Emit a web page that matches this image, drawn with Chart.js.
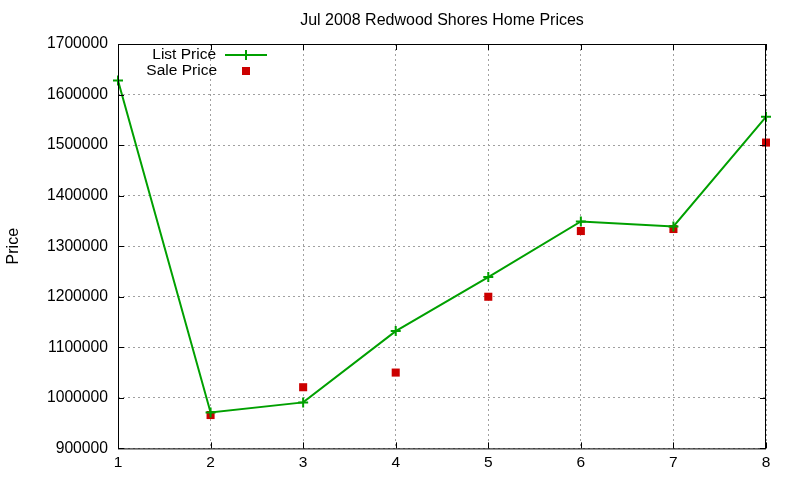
<!DOCTYPE html>
<html>
<head>
<meta charset="utf-8">
<script src="https://cdn.jsdelivr.net/npm/chart.js@4.4.1/dist/chart.umd.min.js"></script>
<style>
  html, body { margin: 0; padding: 0; background: #fff; }
</style>
</head>
<body>
<canvas id="chart" width="800" height="480"></canvas>
<script>
// Data
const months = [1, 2, 3, 4, 5, 6, 7, 8];
const listPrice = [1628000, 971000, 991000, 1132000, 1239000, 1349000, 1339000, 1556000];
const salePrice = [null, 966000, 1021000, 1050000, 1200000, 1330000, 1334000, 1505000];
const yTicks = [900000, 1000000, 1100000, 1200000, 1300000, 1400000, 1500000, 1600000, 1700000];

const FONT = 'Liberation Sans, Arial, sans-serif';
const GREEN = '#00a000';
const RED = '#cc0000';

// border box, mirrored inward ticks and the gnuplot-style key
const framePlugin = {
  id: 'frame',
  afterDatasetsDraw(chart) {
    const { ctx, chartArea: a, scales } = chart;
    ctx.save();
    ctx.strokeStyle = '#000';
    ctx.lineWidth = 1;
    ctx.strokeRect(a.left + 0.5, a.top + 0.5, a.right - a.left - 1, a.bottom - a.top);
    ctx.beginPath();
    const t = 6;
    scales.x.ticks.forEach(tk => {
      const px = Math.round(scales.x.getPixelForValue(tk.value)) + 0.5;
      ctx.moveTo(px, a.bottom); ctx.lineTo(px, a.bottom - t);
      ctx.moveTo(px, a.top); ctx.lineTo(px, a.top + t);
    });
    scales.y.ticks.forEach(tk => {
      const py = Math.round(scales.y.getPixelForValue(tk.value)) + 0.5;
      ctx.moveTo(a.left, py); ctx.lineTo(a.left + t, py);
      ctx.moveTo(a.right, py); ctx.lineTo(a.right - t, py);
    });
    ctx.stroke();

    // key
    ctx.font = '15.5px ' + FONT;
    ctx.fillStyle = '#000';
    ctx.textAlign = 'right';
    ctx.textBaseline = 'middle';
    ctx.fillText('List Price', 216, 55);
    ctx.fillText('Sale Price', 217, 71);
    ctx.strokeStyle = GREEN;
    ctx.lineWidth = 2;
    ctx.beginPath();
    ctx.moveTo(225, 55); ctx.lineTo(267, 55);
    ctx.moveTo(246, 50); ctx.lineTo(246, 60);
    ctx.stroke();
    ctx.fillStyle = RED;
    ctx.fillRect(242, 67, 8, 8);
    ctx.restore();
  }
};

new Chart(document.getElementById('chart'), {
  type: 'line',
  data: {
    datasets: [
      {
        label: 'List Price',
        data: months.map((m, i) => ({ x: m, y: listPrice[i] })),
        borderColor: GREEN,
        backgroundColor: GREEN,
        borderWidth: 2,
        pointStyle: 'cross',
        pointRadius: 5,
        pointBorderWidth: 2,
        tension: 0,
        clip: false
      },
      {
        label: 'Sale Price',
        data: months.map((m, i) => ({ x: m, y: salePrice[i] })),
        showLine: false,
        borderColor: RED,
        backgroundColor: RED,
        pointStyle: 'rect',
        pointRadius: 5.7,
        pointBorderWidth: 0,
        clip: false
      }
    ]
  },
  options: {
    responsive: false,
    animation: false,
    layout: { padding: { left: 4, right: 34, top: 0, bottom: 3 } },
    plugins: {
      legend: { display: false },
      tooltip: { enabled: false },
      title: {
        display: true,
        text: 'Jul 2008 Redwood Shores Home Prices',
        fullSize: false,
        color: '#000',
        font: { family: FONT, size: 16, weight: 'normal' },
        padding: { top: 11, bottom: 13.8 }
      }
    },
    scales: {
      x: {
        type: 'linear',
        min: 1,
        max: 8,
        ticks: {
          stepSize: 1,
          color: '#000',
          padding: 5,
          font: { family: FONT, size: 15.5 }
        },
        grid: {
          color: '#a0a0a0',
          drawTicks: false
        },
        border: { display: false, dash: [2, 3] }
      },
      y: {
        min: 900000,
        max: 1700000,
        afterBuildTicks: (scale) => { scale.ticks = yTicks.map(v => ({ value: v })); },
        afterFit: (scale) => { scale.width = 114; },
        ticks: {
          color: '#000',
          padding: 10,
          font: { family: FONT, size: 15.7 },
          callback: v => String(v)
        },
        grid: {
          color: '#a0a0a0',
          drawTicks: false
        },
        border: { display: false, dash: [2, 3] },
        title: {
          display: true,
          text: 'Price',
          color: '#000',
          font: { family: FONT, size: 16 },
          padding: { top: 0, bottom: 0 }
        }
      }
    }
  },
  plugins: [framePlugin]
});
</script>
</body>
</html>
